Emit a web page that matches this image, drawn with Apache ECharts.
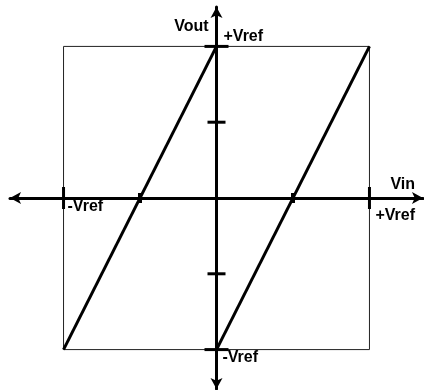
<!DOCTYPE html>
<html>
<head>
<meta charset="utf-8">
<script src="https://cdn.jsdelivr.net/npm/echarts@6/dist/echarts.min.js"></script>
<style>
    html, body { margin: 0; padding: 0; background: #fff; }
    #chart { width: 424px; height: 390px; }
</style>
</head>
<body>
<div id="chart"></div>
<script>
// transfer curve of the converter, in units of Vref
var leftLine = [[-1, -1], [0, 1]];
var rightLine = [[0, -1], [1, 1]];
// reference square
var boxLine = [[-1, -1], [1, -1], [1, 1], [-1, 1], [-1, -1]];
// tick marks on the axes and their labels
var yTicks = [[0, 1, '+Vref'], [0, 0.5, ''], [0, -0.5, ''], [0, -1, '-Vref']];
var xTicks = [[-1, 0, '-Vref'], [-0.5, 0, ''], [0.5, 0, ''], [1, 0, '+Vref']];

var font = '"Liberation Sans", Arial, Helvetica, sans-serif';
var chart = echarts.init(document.getElementById('chart'));

function tickData(list, size, bigSize, offsets) {
    return list.map(function(t, i) {
        return {
            value: [t[0], t[1]],
            symbolSize: Math.abs(t[0]) === 1 || Math.abs(t[1]) === 1 ? bigSize : size,
            label: {
                show: t[2] !== '',
                formatter: t[2],
                offset: offsets[i]
            }
        };
    });
}

var labelStyle = {
    position: 'inside',
    align: 'left',
    verticalAlign: 'middle',
    fontFamily: font,
    fontWeight: 'bold',
    fontSize: 16,
    color: '#000'
};

var option = {
    animation: false,
    grid: {
        left: 10,
        top: 7,
        width: 413,
        height: 382
    },
    xAxis: {
        type: 'value',
        min: -1.35,
        max: 1.35,
        name: 'Vin',
        nameLocation: 'end',
        nameGap: -8,
        nameTextStyle: {
            fontFamily: font,
            fontWeight: 'bold',
            fontSize: 16,
            color: '#000',
            align: 'right',
            verticalAlign: 'bottom',
            padding: [0, 0, 5, 0]
        },
        axisLine: {
            onZero: true,
            symbol: ['arrow', 'arrow'],
            symbolSize: [9, 11],
            lineStyle: { color: '#000', width: 3 }
        },
        axisTick: { show: false },
        axisLabel: { show: false },
        splitLine: { show: false }
    },
    yAxis: {
        type: 'value',
        min: -1.26,
        max: 1.26,
        name: 'Vout',
        nameLocation: 'end',
        nameGap: -20,
        nameTextStyle: {
            fontFamily: font,
            fontWeight: 'bold',
            fontSize: 16,
            color: '#000',
            align: 'right',
            verticalAlign: 'middle',
            padding: [0, 8, 0, 0]
        },
        axisLine: {
            onZero: true,
            symbol: ['arrow', 'arrow'],
            symbolSize: [9, 11],
            lineStyle: { color: '#000', width: 3 }
        },
        axisTick: { show: false },
        axisLabel: { show: false },
        splitLine: { show: false }
    },
    series: [
        {
            type: 'line',
            data: boxLine,
            symbol: 'none',
            silent: true,
            lineStyle: { color: '#222', width: 1 }
        },
        {
            type: 'line',
            data: leftLine,
            symbol: 'none',
            lineStyle: { color: '#000', width: 3 }
        },
        {
            type: 'line',
            data: rightLine,
            symbol: 'none',
            lineStyle: { color: '#000', width: 3 }
        },
        {
            type: 'scatter',
            symbol: 'rect',
            z: 5,
            itemStyle: { color: '#000', opacity: 1 },
            label: labelStyle,
            data: tickData(yTicks, [18, 3], [24, 3], [[7, -10], [0, 0], [0, 0], [6, 8]])
        },
        {
            type: 'scatter',
            symbol: 'rect',
            z: 5,
            itemStyle: { color: '#000', opacity: 1 },
            label: labelStyle,
            data: tickData(xTicks, [4, 10], [3, 22], [[4, 9], [0, 0], [0, 0], [6, 17.5]])
        }
    ]
};

chart.setOption(option);
</script>
</body>
</html>
